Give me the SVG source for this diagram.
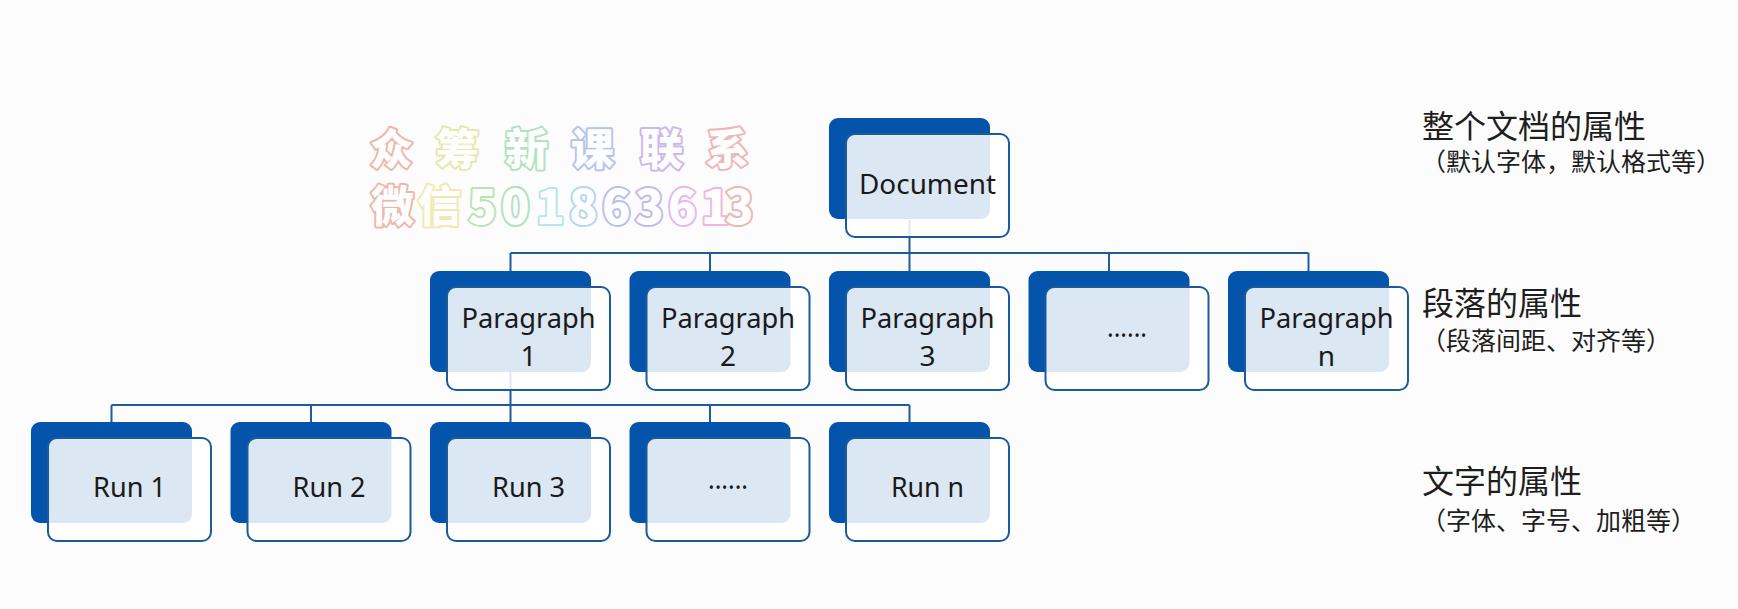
<svg xmlns="http://www.w3.org/2000/svg" width="1738" height="609" viewBox="0 0 1738 609">
<style>
.bg{fill:#fcfcfc}
.back{fill:#0454ab}
.front{fill:#ffffff;fill-opacity:0.86;stroke:#1c5a9c;stroke-width:2}
.conn{stroke:#1f5c9e;stroke-width:2;fill:none}
.lbl{font-family:"Noto Sans","Liberation Sans",sans-serif;font-size:28px;fill:#1a1a1a;text-anchor:middle}
.t1{font-family:"Noto Sans CJK SC","Noto Sans",sans-serif;font-size:32px;fill:#1e1e1e}
.t2{font-family:"Noto Sans CJK SC","Noto Sans",sans-serif;font-size:25px;fill:#1e1e1e}
.wm{font-family:"Noto Sans CJK SC","Noto Sans",sans-serif;font-weight:900;fill:#ffffff;stroke-width:4;paint-order:stroke;stroke-linejoin:round;opacity:0.8}
</style>
<defs>
<g id="node">
<rect class="back" x="0" y="0" width="161" height="101" rx="9"/>
<rect class="front" x="17" y="16" width="163" height="103" rx="9"/>
</g>
</defs>
<rect class="bg" x="0" y="0" width="1738" height="609"/>

<g id="connectors">
<path class="conn" d="M909.5 220 V253 M510.5 253 H1308.5 M510.5 253 V271 M710 253 V271 M909.5 253 V271 M1109 253 V271 M1308.5 253 V271"/>
<path class="conn" d="M510.5 371 V405 M111.5 405 H909.5 M111.5 405 V422 M311 405 V422 M510.5 405 V422 M710 405 V422 M909.5 405 V422"/>
</g>

<g id="watermark">
<text class="wm" font-size="43" y="165"><tspan x="370" stroke="#eaa898">众</tspan><tspan x="436" stroke="#dfe69a">筹</tspan><tspan x="505" stroke="#9edcb4">新</tspan><tspan x="571" stroke="#a6b6ec">课</tspan><tspan x="640" stroke="#c2a6ec">联</tspan><tspan x="706" stroke="#eaa6a6">系</tspan></text>
<text class="wm" font-size="43" y="222"><tspan x="371" stroke="#eaa898">微</tspan><tspan x="418" stroke="#eee6a0">信</tspan></text>
<text class="wm" font-size="47" y="224"><tspan x="468" stroke="#a8e0a0">5</tspan><tspan x="501" stroke="#9edcb0">0</tspan><tspan x="536" stroke="#a6e2e4">1</tspan><tspan x="569" stroke="#a6ceee">8</tspan><tspan x="602" stroke="#a8b2ee">6</tspan><tspan x="635" stroke="#b8a8ee">3</tspan><tspan x="668" stroke="#e0a8ee">6</tspan><tspan x="701" stroke="#eea8d0">1</tspan><tspan x="725" stroke="#e8a8a0">3</tspan></text>
</g>

<g id="n-document">
<use href="#node" x="829" y="118"/>
<text class="lbl" x="927.5" y="194" textLength="137" lengthAdjust="spacingAndGlyphs">Document</text>
</g>

<g id="n-p1">
<use href="#node" x="430" y="271"/>
<text class="lbl" x="528.5" y="328" textLength="134" lengthAdjust="spacingAndGlyphs">Paragraph</text>
<text class="lbl" x="528.5" y="366">1</text>
</g>
<g id="n-p2">
<use href="#node" x="629.5" y="271"/>
<text class="lbl" x="728" y="328" textLength="134" lengthAdjust="spacingAndGlyphs">Paragraph</text>
<text class="lbl" x="728" y="366">2</text>
</g>
<g id="n-p3">
<use href="#node" x="829" y="271"/>
<text class="lbl" x="927.5" y="328" textLength="134" lengthAdjust="spacingAndGlyphs">Paragraph</text>
<text class="lbl" x="927.5" y="366">3</text>
</g>
<g id="n-p4">
<use href="#node" x="1028.5" y="271"/>
<text class="lbl" x="1127" y="337" textLength="40" lengthAdjust="spacingAndGlyphs">......</text>
</g>
<g id="n-pn">
<use href="#node" x="1228" y="271"/>
<text class="lbl" x="1326.5" y="328" textLength="134" lengthAdjust="spacingAndGlyphs">Paragraph</text>
<text class="lbl" x="1326.5" y="366">n</text>
</g>

<g id="n-r1">
<use href="#node" x="31" y="422"/>
<text class="lbl" x="129.5" y="497" textLength="73" lengthAdjust="spacingAndGlyphs">Run 1</text>
</g>
<g id="n-r2">
<use href="#node" x="230.5" y="422"/>
<text class="lbl" x="329" y="497" textLength="73" lengthAdjust="spacingAndGlyphs">Run 2</text>
</g>
<g id="n-r3">
<use href="#node" x="430" y="422"/>
<text class="lbl" x="528.5" y="497" textLength="73" lengthAdjust="spacingAndGlyphs">Run 3</text>
</g>
<g id="n-r4">
<use href="#node" x="629.5" y="422"/>
<text class="lbl" x="728" y="489" textLength="40" lengthAdjust="spacingAndGlyphs">......</text>
</g>
<g id="n-rn">
<use href="#node" x="829" y="422"/>
<text class="lbl" x="927.5" y="497" textLength="73" lengthAdjust="spacingAndGlyphs">Run n</text>
</g>

<g id="labels">
<text class="t1" x="1422" y="138">整个文档的属性</text>
<text class="t2" x="1421" y="171">（默认字体，默认格式等）</text>
<text class="t1" x="1422" y="315">段落的属性</text>
<text class="t2" x="1421" y="350">（段落间距、对齐等）</text>
<text class="t1" x="1422" y="493">文字的属性</text>
<text class="t2" x="1421" y="530">（字体、字号、加粗等）</text>
</g>
</svg>
